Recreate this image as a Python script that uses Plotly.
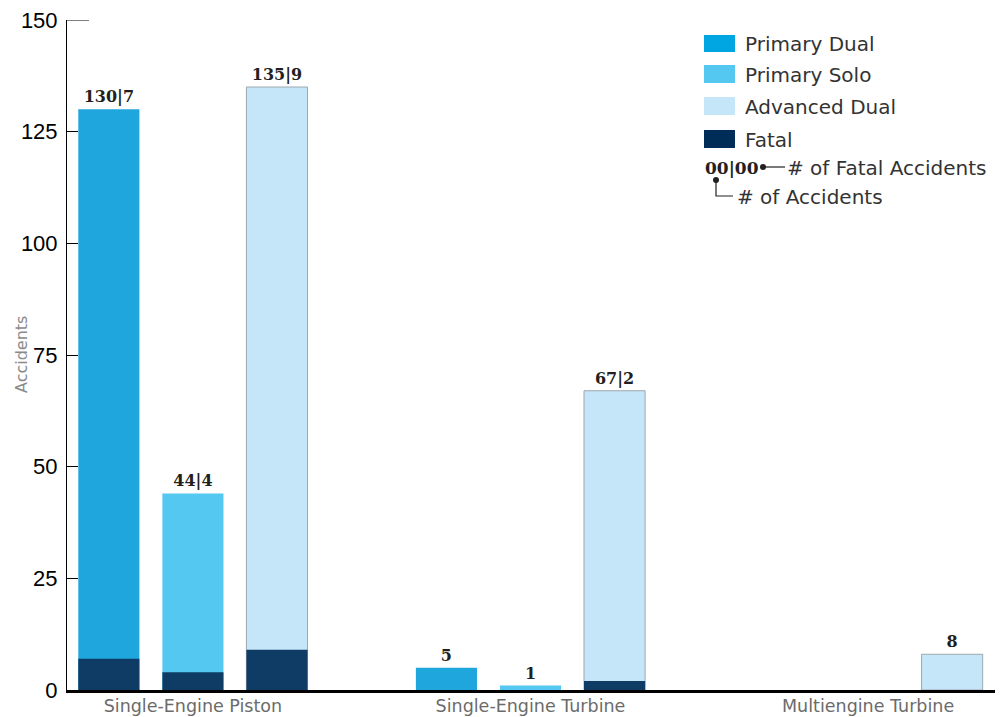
import plotly.graph_objects as go

categories = ["Single-Engine Piston", "Single-Engine Turbine", "Multiengine Turbine"]
primary_dual = [130, 5, 0]
primary_solo = [44, 1, 0]
advanced_dual = [135, 67, 8]
fatal_primary_dual = [7, 0, 0]
fatal_primary_solo = [4, 0, 0]
fatal_advanced_dual = [9, 2, 0]
y_ticks = [0, 25, 50, 75, 100, 125, 150]

C_PD = "#1EA6DD"
C_PS = "#55C8F1"
C_AD = "#C5E6F8"
C_FATAL = "#0E3C64"
C_LEG_PD = "#00A6E2"
C_LEG_FATAL = "#002D57"

# the page body has an 8px margin; figure is sized so the plot lands where the reference has it
OFF = 8
W, H = 1008 - OFF, 717 - OFF
L, R, T, B = 67 - OFF, 13, 20 - OFF, 27
PW, PH = W - L - R, H - T - B


def px(x):
    return (x - OFF - L) / PW


def py(y):
    return (H - B - (y - OFF)) / PH


def label(total, fatal):
    if total == 0:
        return ""
    if fatal == 0:
        return str(total)
    return f"{total}|{fatal}"


serif_font = dict(family="DejaVu Serif", size=16, color="#231F20", weight="bold")
sans = "DejaVu Sans"

fig = go.Figure()
mains = [
    ("Primary Dual", primary_dual, fatal_primary_dual, C_PD, "pd", dict(width=0)),
    ("Primary Solo", primary_solo, fatal_primary_solo, C_PS, "ps", dict(width=0)),
    ("Advanced Dual", advanced_dual, fatal_advanced_dual, C_AD, "ad", dict(color="#9EA7AE", width=1)),
]
for name, vals, fat, col, og, line in mains:
    fig.add_trace(go.Bar(
        x=categories, y=vals, name=name, offsetgroup=og,
        marker=dict(color=col, line=line),
        text=[label(v, f) for v, f in zip(vals, fat)],
        textposition="outside", textfont=serif_font,
        cliponaxis=False, showlegend=False,
    ))
for name, vals, fat, col, og, line in mains:
    fig.add_trace(go.Bar(
        x=categories, y=fat, name="Fatal", offsetgroup=og,
        marker=dict(color=C_FATAL, line=dict(width=0)),
        showlegend=False,
    ))

shapes = []
annotations = []
# legend
legend_items = [("Primary Dual", C_LEG_PD, 35, 52), ("Primary Solo", C_PS, 65, 83),
                ("Advanced Dual", C_AD, 97, 115), ("Fatal", C_LEG_FATAL, 130, 148)]
for text, col, y0, y1 in legend_items:
    shapes.append(dict(type="rect", xref="paper", yref="paper", x0=px(704), x1=px(735),
                       y0=py(y1), y1=py(y0), fillcolor=col, line=dict(width=0), layer="above"))
    annotations.append(dict(text=text, xref="paper", yref="paper", x=px(743), y=py((y0 + y1) / 2 + 1),
                            xanchor="left", yanchor="middle", showarrow=False,
                            font=dict(family=sans, size=20, color="#333333")))
annotations.append(dict(text="00|00", xref="paper", yref="paper", x=px(703), y=py(168),
                        xanchor="left", yanchor="middle", showarrow=False,
                        font=dict(family="DejaVu Serif", size=17, color="#231F20", weight="bold")))
annotations.append(dict(text="# of Fatal Accidents", xref="paper", yref="paper", x=px(785), y=py(168),
                        xanchor="left", yanchor="middle", showarrow=False,
                        font=dict(family=sans, size=20, color="#333333")))
annotations.append(dict(text="# of Accidents", xref="paper", yref="paper", x=px(735), y=py(197),
                        xanchor="left", yanchor="middle", showarrow=False,
                        font=dict(family=sans, size=20, color="#333333")))
shapes.append(dict(type="line", xref="paper", yref="paper", x0=px(763), x1=px(785), y0=py(167), y1=py(167),
                   line=dict(color="#231F20", width=1.2)))
shapes.append(dict(type="circle", xref="paper", yref="paper", x0=px(760), x1=px(766), y0=py(170), y1=py(164),
                   fillcolor="#231F20", line=dict(width=0)))
shapes.append(dict(type="path", xref="paper", yref="paper",
                   path=f"M {px(716)},{py(180)} L {px(716)},{py(196)} L {px(733)},{py(196)}",
                   line=dict(color="#231F20", width=1.2)))
shapes.append(dict(type="circle", xref="paper", yref="paper", x0=px(713), x1=px(719), y0=py(183), y1=py(177),
                   fillcolor="#231F20", line=dict(width=0)))
# longer top tick
shapes.append(dict(type="line", xref="paper", yref="y", x0=0, x1=px(89), y0=150, y1=150,
                   line=dict(color="#000000", width=1)))
# y title
annotations.append(dict(text="Accidents", xref="paper", yref="paper", x=px(21), y=0.5,
                        xanchor="center", yanchor="middle", textangle=-90, showarrow=False,
                        font=dict(family=sans, size=16, color="#8A8A8A")))

fig.update_layout(
    width=W, height=H,
    margin=dict(l=L, r=R, t=T, b=B, pad=0, autoexpand=False),
    paper_bgcolor="white", plot_bgcolor="white",
    barmode="group", bargap=0.253, bargroupgap=0.273,
    shapes=shapes, annotations=annotations,
    showlegend=False,
    xaxis=dict(range=[-0.373, 2.376], showline=True, linecolor="#000000", linewidth=3,
               ticks="", showgrid=False, zeroline=False, fixedrange=True, automargin=False,
               ticklabeloverflow="allow", ticklabelstandoff=-2,
               tickfont=dict(family=sans, size=17.5, color="#6B6B6B")),
    yaxis=dict(range=[0, 150], tickvals=y_ticks, showline=True, linecolor="#000000", linewidth=1,
               ticks="inside", ticklen=11, tickcolor="#000000", tickwidth=1, automargin=False,
               showgrid=False, zeroline=False, ticklabelstandoff=4, ticklabeloverflow="allow",
               tickfont=dict(family="Liberation Sans Narrow, Arial Narrow, sans-serif",
                             size=22, color="#000000")),
)

fig.write_html("out.html")
